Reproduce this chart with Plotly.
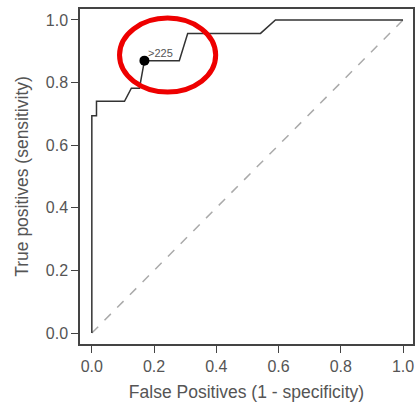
import plotly.graph_objects as go

fpr = [0.0, 0.0, 0.015, 0.015, 0.105, 0.127, 0.153, 0.169, 0.281, 0.308, 0.542, 0.590, 1.0]
tpr = [0.0, 0.694, 0.694, 0.740, 0.740, 0.782, 0.782, 0.870, 0.870, 0.957, 0.957, 1.0, 1.0]
cut_fpr = [0.169]
cut_tpr = [0.870]
cut_label = [">225"]
ref_x = [0.0, 1.0]
ref_y = [0.0, 1.0]
x_ticks = [0.0, 0.2, 0.4, 0.6, 0.8, 1.0]
y_ticks = [0.0, 0.2, 0.4, 0.6, 0.8, 1.0]

fig = go.Figure()
fig.add_trace(go.Scatter(x=ref_x, y=ref_y, mode="lines",
                         line=dict(color="#aaaaaa", width=1.5, dash="dash"),
                         showlegend=False, hoverinfo="skip"))
fig.add_trace(go.Scatter(x=fpr, y=tpr, mode="lines",
                         line=dict(color="#333333", width=1.5),
                         showlegend=False))
fig.add_trace(go.Scatter(x=cut_fpr, y=cut_tpr, mode="markers",
                         marker=dict(color="black", size=10),
                         showlegend=False))
fig.add_annotation(x=cut_fpr[0], y=cut_tpr[0], text=cut_label[0], showarrow=False,
                   xanchor="left", yanchor="bottom", xshift=2, yshift=0,
                   font=dict(size=11, color="#555555", family="Liberation Sans, Arial"))

fig.add_shape(type="circle", xref="x", yref="y",
              x0=0.089, x1=0.398, y0=0.770, y1=1.006,
              line=dict(color="#ee0000", width=5))

axis_common = dict(
    showgrid=False, zeroline=False, showline=True, mirror=True,
    linecolor="#444444", linewidth=1.5,
    ticks="outside", ticklen=7, tickwidth=1.2, tickcolor="#444444",
    tickformat=".1f",
    tickfont=dict(size=16, color="#555555"),
)
fig.update_xaxes(range=[-0.038, 1.032], tickvals=x_ticks,
                 title=dict(text="False Positives (1 - specificity)",
                            font=dict(size=17.5, color="#555555"), standoff=12),
                 **axis_common)
fig.update_yaxes(range=[-0.035, 1.035], tickvals=y_ticks,
                 title=dict(text="True positives (sensitivity)",
                            font=dict(size=17.5, color="#555555"), standoff=13),
                 **axis_common)

fig.update_layout(
    width=419, height=404,
    margin=dict(l=80, r=4, t=9, b=60),
    paper_bgcolor="white", plot_bgcolor="white",
    font=dict(family="Liberation Sans, Arial, sans-serif"),
)

fig.write_html("out.html")
